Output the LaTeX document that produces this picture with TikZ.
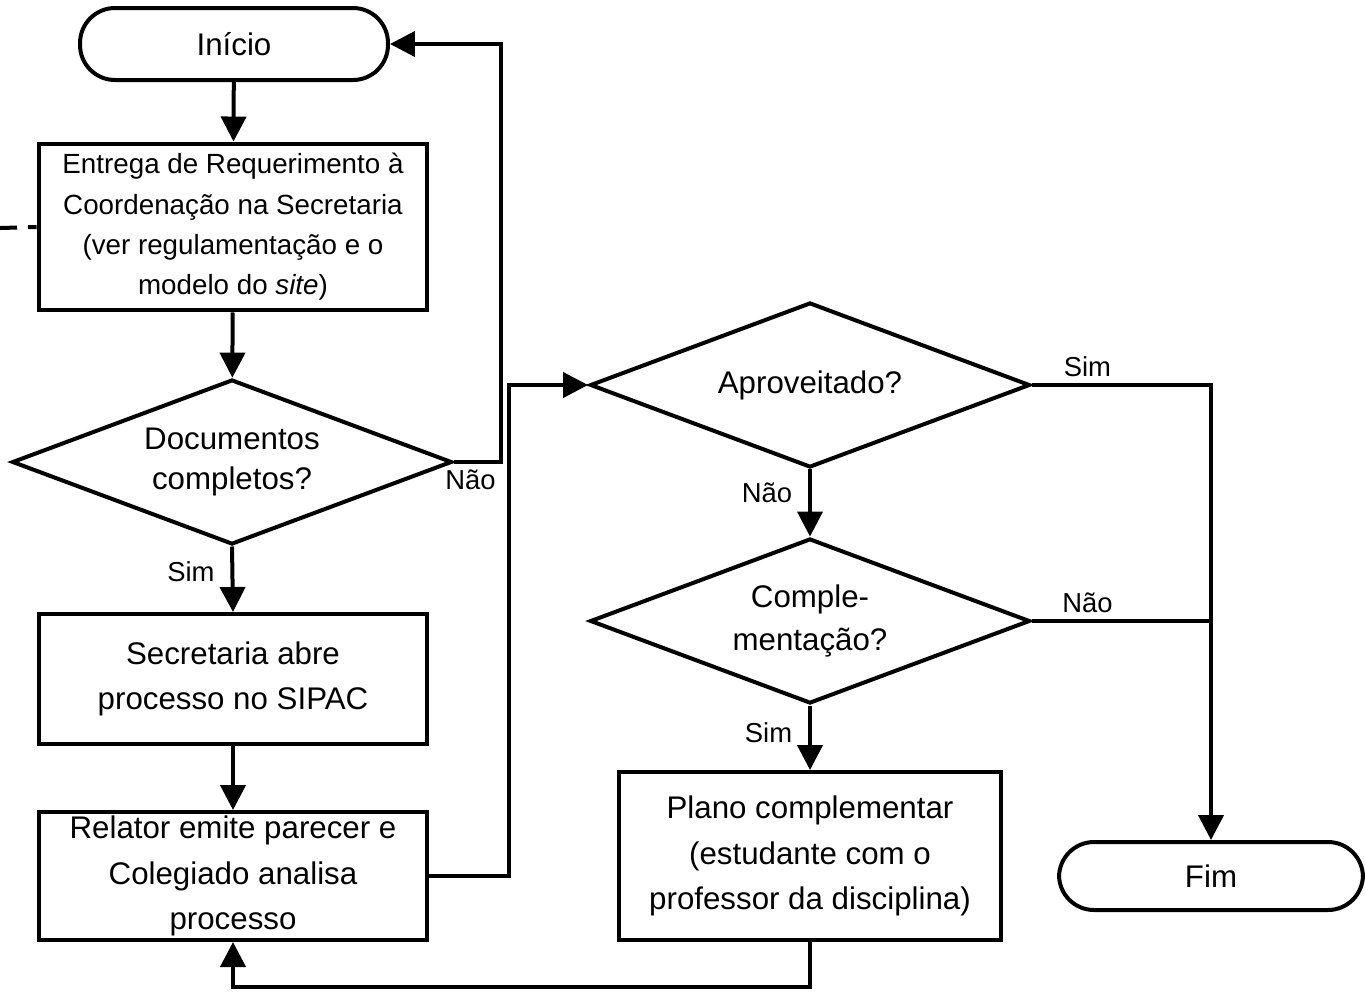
\documentclass[tikz,border=0pt]{standalone}
\usepackage{fontspec}
\setmainfont{Liberation Sans}
\newcommand{\bigtxt}{\fontsize{17.8}{26}\selectfont}
\newcommand{\smalltxt}{\fontsize{15.6}{23}\selectfont}
\usetikzlibrary{shapes.geometric,arrows.meta}
\tikzset{
  base/.style={draw=black, line width=0.08cm, align=center, inner sep=0pt, font=\bigtxt},
  term/.style={base, rounded corners=0.7cm, minimum width=6.16cm, minimum height=1.44cm},
  proc/.style={base, minimum width=7.78cm},
  decis/.style={base, diamond, aspect=2.67, minimum width=8.8cm, minimum height=3.3cm},
  lbl/.style={font=\smalltxt},
  conn/.style={line width=0.08cm},
  arr/.style={conn, -{Triangle[length=0.5cm,width=0.5cm]}},
}
\begin{document}
\begin{tikzpicture}[x=0.02cm, y=-0.02cm]

    \useasboundingbox (0,0) rectangle (1365,995);

    % coluna da esquerda
    \node[term] (ini) at (234,44) {Início};
    \node[proc, minimum height=3.34cm, font=\fontsize{15.8}{23}\selectfont] (ent) at (233,227)
        {Entrega de Requerimento à\\Coordenação na Secretaria\\(ver regulamentação e o\\modelo do \textit{site})};
    \node[decis, font=\fontsize{17.8}{22.5}\selectfont] (doc) at (232,462) {Documentos\\completos?};
    \node[proc, minimum height=2.6cm] (sec) at (233,679) {Secretaria abre\\processo no SIPAC};
    \node[proc, minimum height=2.56cm] (rel) at (233,876) {};
    \node[font=\bigtxt, align=center] (reltxt) at (rel.center) {Relator emite parecer e\\Colegiado analisa\\processo};

    % coluna da direita
    \node[decis] (ap) at (810,385) {Aproveitado?};
    \node[decis, font=\fontsize{17.8}{25}\selectfont] (comp) at (810,621) {Comple-\\mentação?};
    \node[proc, minimum width=7.64cm, minimum height=3.36cm] (pla) at (810,856)
        {Plano complementar\\(estudante com o\\professor da disciplina)};
    \node[term, minimum width=6.08cm, minimum height=1.36cm] (fim) at (1211,876) {Fim};

    % ligacoes
    \coordinate (fora) at (0,228);
    \draw[conn, dash pattern=on 0.34cm off 0.22cm] (fora) -- (ent.west);

    \draw[arr] (ini) -- (ent);
    \draw[arr] (ent) -- (doc);
    \draw[arr] (doc.east) -- node[lbl, below, pos=0.35] {Não} ++(47,0) |- (ini.east);
    \draw[arr] (doc.south) -- node[lbl, left=0.2cm, pos=0.38] {Sim} (sec.north);
    \draw[arr] (sec) -- (rel);
    \draw[arr] (rel.east) -- ++(80,0) |- (ap.west);
    \draw[arr] (ap.east) -| node[lbl, above, pos=0.155] {Sim} (fim.north);
    \draw[arr] (ap.south) -- node[lbl, left=0.2cm, pos=0.35] {Não} (comp.north);
    \draw[conn] (comp.east) -- node[lbl, above, pos=0.31] {Não} (comp.east -| fim.north);
    \draw[arr] (comp.south) -- node[lbl, left=0.2cm, pos=0.42] {Sim} (pla.north);
    \draw[arr] (pla.south) -- ++(0,45) -| (rel.south);

\end{tikzpicture}
\end{document}
